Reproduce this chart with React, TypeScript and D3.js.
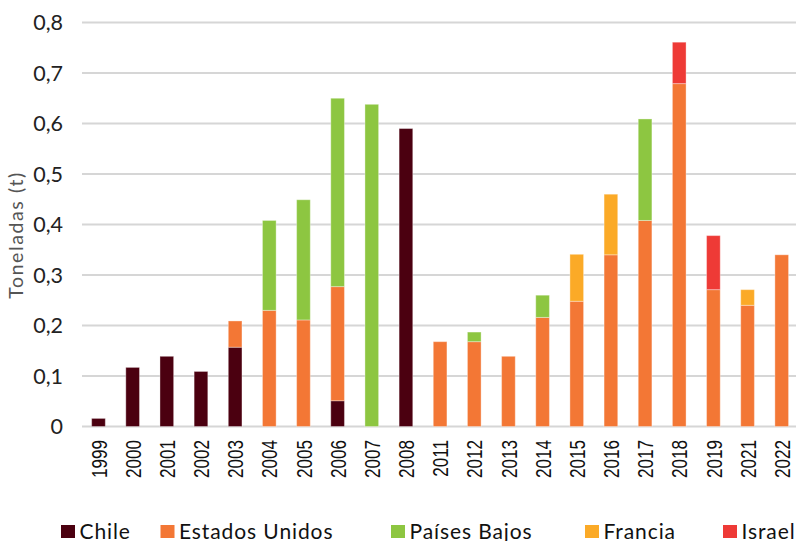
import React from "react";
import * as d3 from "d3";

const years = ["1999","2000","2001","2002","2003","2004","2005","2006","2007","2008","2011","2012","2013","2014","2015","2016","2017","2018","2019","2021","2022"];
const chile = [0.016,0.117,0.139,0.109,0.157,0,0,0.051,0,0.59,0,0,0,0,0,0,0,0,0,0,0];
const estadosUnidos = [0,0,0,0,0.052,0.23,0.211,0.226,0,0,0.168,0.168,0.139,0.216,0.248,0.34,0.408,0.679,0.271,0.24,0.34];
const paisesBajos = [0,0,0,0,0,0.178,0.238,0.373,0.638,0,0,0.019,0,0.044,0,0,0.201,0,0,0,0];
const francia = [0,0,0,0,0,0,0,0,0,0,0,0,0,0,0.093,0.12,0,0,0,0.031,0];
const israel = [0,0,0,0,0,0,0,0,0,0,0,0,0,0,0,0,0,0.082,0.107,0,0];
const yTicks = [0,0.1,0.2,0.3,0.4,0.5,0.6,0.7,0.8];

const seriesKeys = ["Chile","Estados Unidos","Países Bajos","Francia","Israel"];
const seriesColors = ["#4b0010","#f37735","#8dc641","#fbaa27","#ee3a36"];
const seriesValues = [chile, estadosUnidos, paisesBajos, francia, israel];
const legendX = [61, 160.5, 391, 585, 723];

export default function App() {
  const rows = years.map((y, i) => {
    const r: any = { year: y };
    seriesKeys.forEach((k, j) => (r[k] = seriesValues[j][i]));
    return r;
  });
  const stacked = d3.stack().keys(seriesKeys)(rows);
  const x = d3.scaleBand().domain(years).range([81.4, 798.8]).paddingInner(0.6).paddingOuter(0.3);
  const y = d3.scaleLinear().domain([0, 0.8]).range([426.5, 22.5]);
  const fmt = (v: number) => (v === 0 ? "0" : d3.format(".1f")(v).replace(".", ","));

  return (
    <svg width={796} height={541} style={{ position: "absolute", left: 0, top: 0, background: "#fff" }}>
      {yTicks.map((t) => (
        <g key={t}>
          <line x1={82} x2={796} y1={y(t)} y2={y(t)} stroke="#d6d6d6" strokeWidth={2} />
          <text x={63} y={y(t)} dy="0.36em" textAnchor="end" fontFamily="Lato" fontSize={21.5} fill="#222">{fmt(t)}</text>
        </g>
      ))}
      {stacked.map((s, j) => (
        <g key={s.key} fill={seriesColors[j]}>
          {s.map((d, i) =>
            d[1] - d[0] > 0 ? (
              <rect key={i} x={x(years[i])} width={x.bandwidth()} y={y(d[1])} height={y(d[0]) - y(d[1])} stroke="#ffffff" strokeOpacity={0.35} strokeWidth={1} />
            ) : null
          )}
        </g>
      ))}
      {years.map((yr) => (
        <text key={yr} transform={`translate(${(x(yr) as number) + x.bandwidth() / 2},440) rotate(-90) scale(0.76,1)`} dy="0.36em" textAnchor="end" fontFamily="Liberation Sans, Arial" fontSize={22.5} fill="#111">{yr}</text>
      ))}
      <text transform="translate(16,235) rotate(-90)" dy="0.36em" textAnchor="middle" fontFamily="Lato" fontSize={19.5} letterSpacing={1.6} fill="#555">Toneladas (t)</text>
      {seriesKeys.map((k, j) => (
        <g key={k}>
          <rect x={legendX[j]} y={525} width={14} height={13} fill={seriesColors[j]} />
          <text x={legendX[j] + 18.5} y={538.5} fontFamily="Lato" fontSize={21} letterSpacing={0.9} fill="#111">{k}</text>
        </g>
      ))}
    </svg>
  );
}
